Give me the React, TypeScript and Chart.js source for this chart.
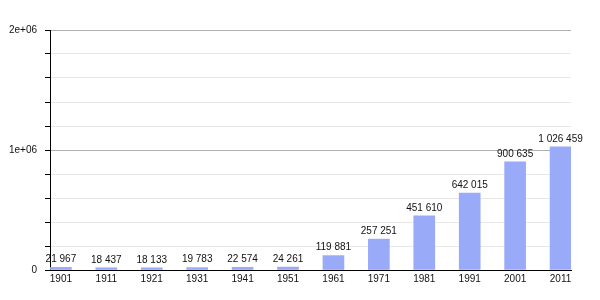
import React, { useEffect, useRef } from "react";
import { Chart, registerables } from "chart.js";

Chart.register(...registerables);

const years = ["1901", "1911", "1921", "1931", "1941", "1951", "1961", "1971", "1981", "1991", "2001", "2011"];
const population = [21967, 18437, 18133, 19783, 22574, 24261, 119881, 257251, 451610, 642015, 900635, 1026459];
const yTickLabels: Record<number, string> = { 0: "0", 1000000: "1e+06", 2000000: "2e+06" };

const fmt = (v: number) => String(v).replace(/\B(?=(\d{3})+(?!\d))/g, " ");

const labelPlugin = {
  id: "barLabels",
  afterDatasetsDraw(chart: any) {
    const ctx = chart.ctx;
    const meta = chart.getDatasetMeta(0);
    ctx.save();
    ctx.font = "10px 'Liberation Sans', Arial, sans-serif";
    ctx.fillStyle = "#111";
    ctx.textAlign = "center";
    ctx.textBaseline = "bottom";
    meta.data.forEach((bar: any, i: number) => {
      ctx.fillText(fmt(population[i]), bar.x, bar.y - 3);
    });
    ctx.restore();
  },
};

export default function App() {
  const ref = useRef<HTMLCanvasElement>(null);
  useEffect(() => {
    if (!ref.current) return;
    const chart = new Chart(ref.current, {
      type: "bar",
      data: {
        datasets: [
          {
            data: population.map((v, i) => ({ x: i, y: v })),
            backgroundColor: "#99aaf9",
            barThickness: 21,
          },
        ],
      },
      options: {
        animation: false,
        responsive: false,
        layout: { padding: { top: 30, right: 29, left: 0, bottom: 0 } },
        plugins: { legend: { display: false }, tooltip: { enabled: false } },
        scales: {
          x: {
            type: "linear",
            offset: false,
            bounds: "data",
            min: -0.24,
            max: 11.23,
            afterBuildTicks: (axis: any) => {
              axis.ticks = years.map((_, i) => ({ value: i }));
            },
            afterFit: (axis: any) => {
              axis.height = 30;
            },
            grid: { display: false, drawTicks: false, offset: false },
            border: { display: true, color: "#000", width: 1 },
            ticks: {
              padding: 3,
              autoSkip: false,
              maxRotation: 0,
              color: "#111",
              font: { family: "'Liberation Sans', Arial, sans-serif", size: 10 },
              callback: (v: any) => years[v] ?? "",
            },
          },
          y: {
            min: 0,
            max: 2000000,
            afterFit: (axis: any) => {
              axis.width = 50;
            },
            grid: {
              color: (c: any) => (c.tick && c.tick.value % 1000000 === 0 ? "#b0b0b0" : "#e8e8e8"),
              tickColor: "#000",
              tickLength: 5,
            },
            border: { display: true, color: "#000", width: 1 },
            ticks: {
              stepSize: 200000,
              padding: 8,
              color: "#111",
              font: { family: "'Liberation Sans', Arial, sans-serif", size: 10 },
              callback: (v: any) => yTickLabels[v] ?? "",
            },
          },
        },
      },
      plugins: [labelPlugin],
    } as any);
    return () => chart.destroy();
  }, []);
  return (
    <div style={{ position: "absolute", left: 0, top: 0, width: 600, height: 300, background: "#fff" }}>
      <canvas ref={ref} width={600} height={300} />
    </div>
  );
}
